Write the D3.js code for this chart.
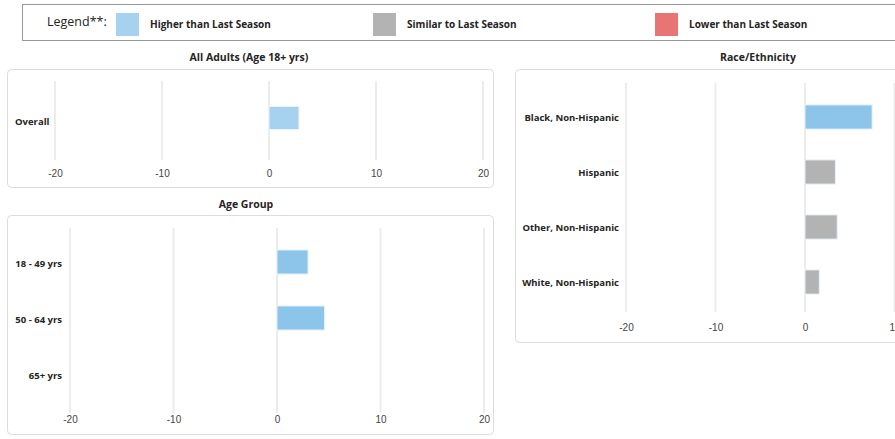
<!DOCTYPE html>
<html>
<head>
<meta charset="utf-8">
<script src="https://cdn.jsdelivr.net/npm/d3@7"></script>
<style>
  body { margin: 0; background: #fff; }
  svg { display: block; font-family: "Open Sans", "Noto Sans", sans-serif; }
  .panelTitle { font-size: 10.5px; font-weight: 700; fill: #252423; text-anchor: middle; }
  .catLabel { font-size: 9.5px; font-weight: 700; fill: #252423; }
  .tick text { font-size: 10px; fill: #444; }
  .legendText { font-size: 10px; font-weight: 700; fill: #252423; }
</style>
</head>
<body>
<div id="chart"></div>
<script>
// legend entries
var legendLabels = ['Higher than Last Season', 'Similar to Last Season', 'Lower than Last Season'];
var legendColors = ['#a6d2ef', '#b3b3b3', '#e87473'];

// x axis ticks shared by all panels
var xTicks = [-20, -10, 0, 10, 20];

// All Adults
var adultCats = ['Overall'];
var adultVals = [2.8];
var adultFill = ['#a6d2ef'];

// Age Group
var ageCats = ['18 - 49 yrs', '50 - 64 yrs', '65+ yrs'];
var ageVals = [3.0, 4.6, null];
var ageFill = ['#8cc4ea', '#8cc4ea', '#8cc4ea'];

// Race/Ethnicity
var raceCats = ['Black, Non-Hispanic', 'Hispanic', 'Other, Non-Hispanic', 'White, Non-Hispanic'];
var raceVals = [7.5, 3.4, 3.6, 1.6];
var raceFill = ['#8cc4ea', '#b3b3b3', '#b3b3b3', '#b3b3b3'];

var svgWidth = 895;
var svgHeight = 439;

var svg = d3.select('#chart')
  .append('svg')
  .attr('width', svgWidth)
  .attr('height', svgHeight);

// Legend box
svg.append('rect')
  .attr('x', 22.5).attr('y', 4.5)
  .attr('width', 900).attr('height', 36)
  .attr('fill', '#fff')
  .attr('stroke', '#999');

svg.append('text')
  .attr('x', 47).attr('y', 26)
  .attr('font-size', '12.5px')
  .attr('fill', '#252423')
  .text('Legend**:');

var legendX = [116, 373, 655];
legendLabels.forEach(function(l, i) {
  svg.append('rect')
    .attr('x', legendX[i]).attr('y', 13)
    .attr('width', 23).attr('height', 23)
    .attr('fill', legendColors[i]);
  svg.append('text')
    .attr('class', 'legendText')
    .attr('x', legendX[i] + 34).attr('y', 28)
    .text(l);
});

function drawPanel(opts) {
  var g = svg.append('g');

  g.append('text')
    .attr('class', 'panelTitle')
    .attr('x', opts.titleX).attr('y', opts.titleY)
    .text(opts.title);

  g.append('rect')
    .attr('x', opts.box[0] + 0.5).attr('y', opts.box[1] + 0.5)
    .attr('width', opts.box[2]).attr('height', opts.box[3])
    .attr('rx', 4)
    .attr('fill', '#fff')
    .attr('stroke', '#dcdcdc');

  var x = d3.scaleLinear()
    .domain([-20, 20])
    .range(opts.xRange);

  var y = d3.scaleBand()
    .domain(opts.cats)
    .range(opts.yRange)
    .paddingInner(opts.pad)
    .paddingOuter(opts.pad / 2);

  // gridlines
  g.selectAll('.grid')
    .data(xTicks)
    .enter()
    .append('line')
    .attr('x1', d => x(d)).attr('x2', d => x(d))
    .attr('y1', opts.gridY[0]).attr('y2', opts.gridY[1])
    .attr('stroke', '#ececec')
    .attr('stroke-width', 2);

  var axis = d3.axisBottom(x)
    .tickValues(xTicks)
    .tickFormat(d => String(d))
    .tickSize(0)
    .tickPadding(0);

  g.append('g')
    .attr('transform', `translate(0, ${opts.axisY})`)
    .call(axis)
    .call(a => a.select('.domain').remove());

  g.selectAll('.catLabel')
    .data(opts.cats)
    .enter()
    .append('text')
    .attr('class', 'catLabel')
    .attr('x', opts.labelX)
    .attr('y', d => y(d) + y.bandwidth() / 2 + opts.labelDy)
    .attr('dy', '0.35em')
    .attr('text-anchor', opts.labelAnchor)
    .text(d => d);

  g.selectAll('.bar')
    .data(opts.cats.map((c, i) => ({ cat: c, val: opts.vals[i], fill: opts.fill[i] }))
      .filter(d => d.val !== null))
    .enter()
    .append('rect')
    .attr('x', d => x(Math.min(0, d.val)))
    .attr('y', d => y(d.cat))
    .attr('width', d => Math.abs(x(d.val) - x(0)))
    .attr('height', y.bandwidth())
    .attr('fill', d => d.fill)
    .attr('stroke', '#e8f3fb')
    .attr('stroke-width', 1);
}

drawPanel({
  title: 'All Adults (Age 18+ yrs)', titleX: 249, titleY: 61,
  box: [7, 69, 486, 118],
  xRange: [55, 483],
  cats: adultCats, vals: adultVals, fill: adultFill,
  yRange: [95, 141], pad: 0.5,
  gridY: [81, 160], axisY: 170,
  labelX: 15, labelAnchor: 'start', labelDy: 4
});

drawPanel({
  title: 'Age Group', titleX: 246, titleY: 208,
  box: [7, 215, 486, 219],
  xRange: [70, 484],
  cats: ageCats, vals: ageVals, fill: ageFill,
  yRange: [234, 402], pad: 0.57,
  gridY: [228, 413], axisY: 416,
  labelX: 62, labelAnchor: 'end', labelDy: 2
});

drawPanel({
  title: 'Race/Ethnicity', titleX: 758, titleY: 61,
  box: [515, 69, 470, 273],
  xRange: [626, 984],
  cats: raceCats, vals: raceVals, fill: raceFill,
  yRange: [89.5, 309.5], pad: 0.56,
  gridY: [83, 312], axisY: 324,
  labelX: 619, labelAnchor: 'end', labelDy: 1
});
</script>
</body>
</html>
